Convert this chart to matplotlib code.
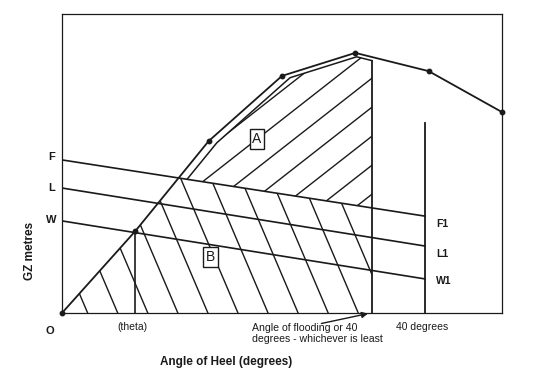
import numpy as np
import matplotlib
matplotlib.use('Agg')
import matplotlib.pyplot as plt
from matplotlib.patches import Polygon

plt.rcParams['font.family'] = ['Liberation Sans', 'DejaVu Sans']

# GZ curve (schematic, heel in arbitrary degree units)
heel = [0, 10, 20, 30, 40, 50, 60]
gz = [0.0, 0.274, 0.575, 0.793, 0.870, 0.809, 0.672]

flood_angle = 42.3     # angle of flooding / 40 deg limit
forty_angle = 49.5     # 40 degrees line
theta_angle = 10.0

flood_top = 0.843
forty_top = 0.635

# heeling-arm lines: value at heel 0 and at the 40 degree line
arm_names = ['F', 'L', 'W']
arm_start = [0.512, 0.418, 0.308]
arm_end = [0.324, 0.224, 0.114]
arm_end_labels = ['F1', 'L1', 'W1']
arm_end_label_y = [0.298, 0.197, 0.107]
arm_start_label_y = [0.522, 0.418, 0.311]

ink = '#1a1a1a'

fig = plt.figure(figsize=(5.4, 3.85), dpi=100)
ax = fig.add_axes([0.1148, 0.187, 0.8148, 0.7766])
ax.set_xlim(0, 60)
ax.set_ylim(0, 1.0)
ax.set_xticks([])
ax.set_yticks([])
for s in ax.spines.values():
    s.set_linewidth(0.9)
    s.set_color(ink)


def arm(i, x):
    return arm_start[i] + (arm_end[i] - arm_start[i]) * np.asarray(x) / forty_angle


# regions
xs = np.linspace(0, flood_angle, 600)
gz_x = np.interp(xs, heel, gz)
f_x = arm(0, xs)

# region A: above F, below GZ (outline drawn a little inside the curve)
top_a = np.minimum(np.interp(xs - 1.1, heel, gz) - 0.006, gz_x - 0.012)
m = top_a > f_x
verts_a = list(zip(xs[m], top_a[m])) + list(zip(xs[m][::-1], f_x[m][::-1]))
poly_a = Polygon(verts_a, closed=True, fill=False, edgecolor='none')
ax.add_patch(poly_a)
ax.plot(xs[m], top_a[m], color=ink, lw=1.1)

# region B: below both GZ and F
top_b = np.minimum(gz_x, f_x)
verts_b = list(zip(xs, top_b)) + [(flood_angle, 0), (0, 0)]
poly_b = Polygon(verts_b, closed=True, fill=False, edgecolor='none')
ax.add_patch(poly_b)

# hatching for A ("/")
slope_a = 0.0192
c0 = 0.786 - slope_a * flood_angle
for c in c0 + 0.097 * np.arange(-12, 12):
    hx = np.array([0, 60])
    ln, = ax.plot(hx, c + slope_a * hx, color=ink, lw=1.0)
    ln.set_clip_path(poly_a)

# hatching for B ("\")
slope_b = -0.0576
for x0 in np.arange(3.5, 52, 4.1):
    hx = np.array([0, 60])
    ln, = ax.plot(hx, slope_b * (hx - x0), color=ink, lw=1.0)
    ln.set_clip_path(poly_b)

# GZ curve
ax.plot(heel, gz, color=ink, lw=1.3, marker='o', ms=3.2, clip_on=False, zorder=5)

# heeling arm lines
for i in range(3):
    ax.plot([0, forty_angle], [arm_start[i], arm_end[i]], color=ink, lw=1.2)
    ax.text(-1.4, arm_start_label_y[i], arm_names[i], ha='center', va='center',
            fontsize=8, fontweight='bold', color=ink, clip_on=False)
    ax.text(51.0, arm_end_label_y[i], arm_end_labels[i], ha='left', va='center',
            fontsize=7.5, fontweight='bold', color=ink)

# vertical lines
ax.plot([flood_angle, flood_angle], [0, flood_top], color=ink, lw=1.3)
ax.plot([forty_angle, forty_angle], [0, forty_top], color=ink, lw=1.3)
ax.plot([theta_angle, theta_angle], [0, np.interp(theta_angle, heel, gz)], color=ink, lw=1.2)

# boxed labels
bbox = dict(boxstyle='square,pad=0.2', fc='white', ec=ink, lw=1.0)
ax.text(26.6, 0.582, 'A', ha='center', va='center', fontsize=10, color=ink, bbox=bbox, zorder=6)
ax.text(20.2, 0.187, 'B', ha='center', va='center', fontsize=10, color=ink, bbox=bbox, zorder=6)

# bottom annotations
ax.text(-1.6, -0.06, 'O', ha='center', va='center', fontsize=8, fontweight='bold',
        color=ink, clip_on=False)
ax.text(9.6, -0.047, '(theta)', ha='center', va='center', fontsize=7.5,
        color=ink, clip_on=False)
ax.text(49.1, -0.047, '40 degrees', ha='center', va='center', fontsize=7.5,
        color=ink, clip_on=False)
ax.text(25.9, -0.069, 'Angle of flooding or 40\ndegrees - whichever is least',
        ha='left', va='center', fontsize=7.6, color=ink, linespacing=1.1, clip_on=False)
ax.annotate('', xy=(flood_angle - 0.2, 0.0), xytext=(35.0, -0.037),
            arrowprops=dict(arrowstyle='-|>', color=ink, lw=1.0, mutation_scale=9),
            annotation_clip=False)

ax.text(22.4, -0.164, 'Angle of Heel (degrees)', ha='center', va='center',
        fontsize=8.5, fontweight='bold', color=ink, clip_on=False)
ax.text(-4.4, 0.207, 'GZ metres', ha='center', va='center', rotation=90,
        fontsize=8.5, fontweight='bold', color=ink, clip_on=False)

fig.savefig('out.png', dpi=100)
